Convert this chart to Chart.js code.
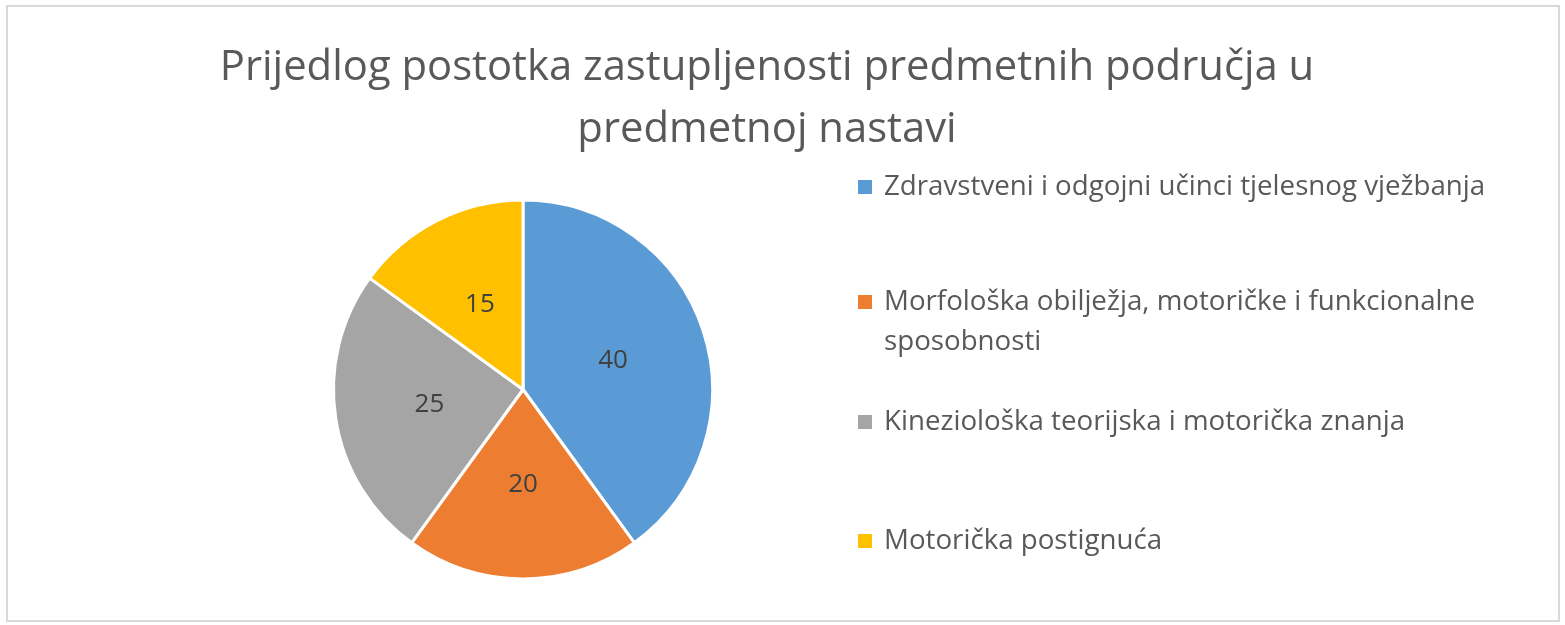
<!DOCTYPE html>
<html>
<head>
<meta charset="utf-8">
<script src="https://cdn.jsdelivr.net/npm/chart.js@4.4.0/dist/chart.umd.min.js"></script>
<style>
    html, body { margin: 0; padding: 0; background: #fff; }
    .frame {
        position: absolute;
        left: 6px; top: 5px;
        width: 1550px; height: 613px;
        border: 2px solid #d9d9d9;
    }
    #wrap { position: absolute; left: 0; top: 0; width: 1565px; height: 625px; }
</style>
</head>
<body>
<div class="frame"></div>
<div id="wrap"><canvas id="myChart"></canvas></div>
<script>
const categories = [
    'Zdravstveni i odgojni učinci tjelesnog vježbanja',
    'Morfološka obilježja, motoričke i funkcionalne sposobnosti',
    'Kineziološka teorijska i motorička znanja',
    'Motorička postignuća'
];
const values = [40, 20, 25, 15];
const sliceColors = ['#5b9bd5', '#ed7d31', '#a5a5a5', '#ffc000'];
const titleLines = ['Prijedlog postotka zastupljenosti predmetnih područja u', 'predmetnoj nastavi'];

const FONT = "'Open Sans', sans-serif";

// two-line title, centred over the whole chart
const chartTitle = {
    id: 'chartTitle',
    afterDraw(chart) {
        const ctx = chart.ctx;
        ctx.save();
        ctx.font = '41.8px ' + FONT;
        ctx.fillStyle = '#595959';
        ctx.textAlign = 'center';
        ctx.textBaseline = 'middle';
        titleLines.forEach((line, i) => {
            ctx.fillText(line, 767, 68 + i * 62);
        });
        ctx.restore();
    }
};

// slice value labels, placed at half radius
const valueLabels = {
    id: 'valueLabels',
    afterDatasetsDraw(chart) {
        const ctx = chart.ctx;
        const meta = chart.getDatasetMeta(0);
        ctx.save();
        ctx.font = '26px ' + FONT;
        ctx.fillStyle = '#404040';
        ctx.textAlign = 'center';
        ctx.textBaseline = 'middle';
        meta.data.forEach((arc, i) => {
            const p = arc.tooltipPosition();
            ctx.fillText(String(chart.data.datasets[0].data[i]), p.x, p.y);
        });
        ctx.restore();
    }
};

// legend on the right, wrapped text
const sideLegend = {
    id: 'sideLegend',
    afterDraw(chart) {
        const ctx = chart.ctx;
        const rowY = [187, 302, 422, 541];
        const boxX = 858, textX = 884, maxW = 650, lineH = 40;
        ctx.save();
        ctx.font = '27.7px ' + FONT;
        ctx.textBaseline = 'middle';
        ctx.textAlign = 'left';
        chart.data.labels.forEach((label, i) => {
            ctx.fillStyle = chart.data.datasets[0].backgroundColor[i];
            ctx.fillRect(boxX, rowY[i] - 7, 14, 14);
            ctx.fillStyle = '#595959';
            const words = label.split(' ');
            let line = '';
            let y = rowY[i];
            words.forEach(w => {
                const test = line ? line + ' ' + w : w;
                if (ctx.measureText(test).width > maxW && line) {
                    ctx.fillText(line, textX, y);
                    line = w;
                    y += lineH;
                } else {
                    line = test;
                }
            });
            ctx.fillText(line, textX, y);
        });
        ctx.restore();
    }
};

const ctx = document.getElementById('myChart').getContext('2d');
const myChart = new Chart(ctx, {
    type: 'pie',
    data: {
        labels: categories,
        datasets: [{
            data: values,
            backgroundColor: sliceColors,
            borderColor: '#ffffff',
            borderWidth: 3
        }]
    },
    options: {
        responsive: true,
        maintainAspectRatio: false,
        animation: false,
        layout: {
            padding: { left: 332, right: 851, top: 198, bottom: 44 }
        },
        plugins: {
            legend: { display: false },
            tooltip: { enabled: false },
            title: { display: false }
        }
    },
    plugins: [valueLabels, sideLegend, chartTitle]
});
</script>
</body>
</html>
